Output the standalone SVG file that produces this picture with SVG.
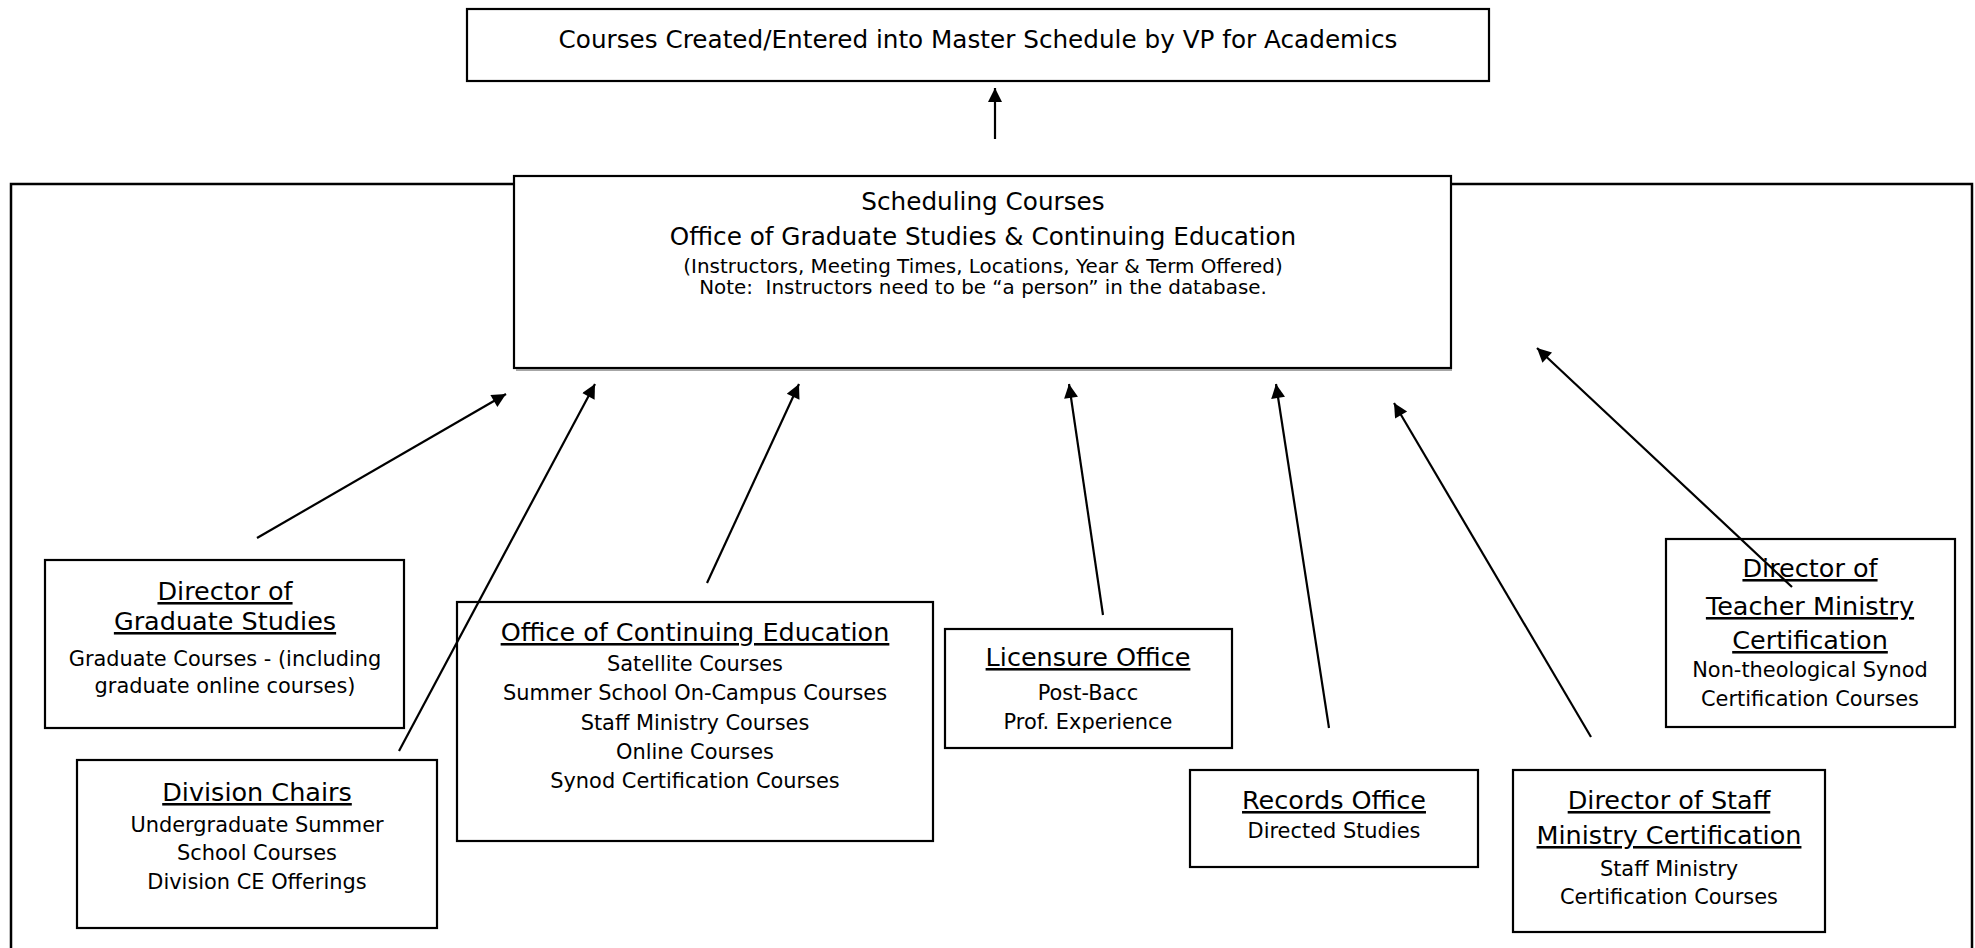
<svg xmlns="http://www.w3.org/2000/svg" width="1975" height="948" viewBox="0 0 1975 948">
<defs>
<style>
.box{fill:#fff;stroke:#000;stroke-width:2.2}
.frame{fill:none;stroke:#000;stroke-width:2.5}
text{font-family:"DejaVu Sans","Verdana",sans-serif;fill:#000;text-anchor:middle}
.t{font-size:24.7px}
.ts{font-size:19.9px}
.h{font-size:25.5px}
.s{font-size:20.9px}
.u{text-decoration:underline}
.c{stroke:#000;stroke-width:2.2;fill:none;marker-end:url(#ah)}
</style>
<marker id="ah" viewBox="0 0 10 10" refX="10" refY="5" markerUnits="userSpaceOnUse" markerWidth="18" markerHeight="14" orient="auto">
<path d="M0,0 L10,5 L0,10 z" fill="#000"/>
</marker>
</defs>
<rect width="1975" height="948" fill="#fff"/>
<rect class="frame" x="11" y="184" width="1961" height="800"/>
<g id="vp">
<rect class="box" x="467" y="9" width="1022" height="72"/>
<text class="t" x="978" y="48">Courses Created/Entered into Master Schedule by VP for Academics</text>
</g>
<g id="scheduling">
<rect class="box" x="514" y="176" width="937" height="192"/>
<line x1="516" y1="370" x2="1452" y2="370" stroke="#888" stroke-width="1.5"/>
<text class="t" x="983" y="210">Scheduling Courses</text>
<text class="t" x="983" y="245">Office of Graduate Studies &amp; Continuing Education</text>
<text class="ts" x="983" y="273">(Instructors, Meeting Times, Locations, Year &amp; Term Offered)</text>
<text class="ts" x="983" y="294">Note:&#160; Instructors need to be “a person” in the database.</text>
</g>
<g id="grad">
<rect class="box" x="45" y="560" width="359" height="168"/>
<text class="h u" x="225" y="600">Director of</text>
<text class="h u" x="225" y="630">Graduate Studies</text>
<text class="s" x="225" y="666">Graduate Courses - (including</text>
<text class="s" x="225" y="693">graduate online courses)</text>
</g>
<g id="division">
<rect class="box" x="77" y="760" width="360" height="168"/>
<text class="h u" x="257" y="801">Division Chairs</text>
<text class="s" x="257" y="832">Undergraduate Summer</text>
<text class="s" x="257" y="860">School Courses</text>
<text class="s" x="257" y="889">Division CE Offerings</text>
</g>
<g id="ce">
<rect class="box" x="457" y="602" width="476" height="239"/>
<text class="h u" x="695" y="641">Office of Continuing Education</text>
<text class="s" x="695" y="671">Satellite Courses</text>
<text class="s" x="695" y="700">Summer School On-Campus Courses</text>
<text class="s" x="695" y="730">Staff Ministry Courses</text>
<text class="s" x="695" y="759">Online Courses</text>
<text class="s" x="695" y="788">Synod Certification Courses</text>
</g>
<g id="licensure">
<rect class="box" x="945" y="629" width="287" height="119"/>
<text class="h u" x="1088" y="666">Licensure Office</text>
<text class="s" x="1088" y="700">Post-Bacc</text>
<text class="s" x="1088" y="729">Prof. Experience</text>
</g>
<g id="records">
<rect class="box" x="1190" y="770" width="288" height="97"/>
<text class="h u" x="1334" y="809">Records Office</text>
<text class="s" x="1334" y="838">Directed Studies</text>
</g>
<g id="staff">
<rect class="box" x="1513" y="770" width="312" height="162"/>
<text class="h u" x="1669" y="809">Director of Staff</text>
<text class="h u" x="1669" y="844">Ministry Certification</text>
<text class="s" x="1669" y="876">Staff Ministry</text>
<text class="s" x="1669" y="904">Certification Courses</text>
</g>
<g id="teacher">
<rect class="box" x="1666" y="539" width="289" height="188"/>
<text class="h u" x="1810" y="577">Director of</text>
<text class="h u" x="1810" y="615">Teacher Ministry</text>
<text class="h u" x="1810" y="649">Certification</text>
<text class="s" x="1810" y="677">Non-theological Synod</text>
<text class="s" x="1810" y="706">Certification Courses</text>
</g>
<g id="connectors">
<line class="c" x1="995" y1="139" x2="995" y2="88"/>
<line class="c" x1="257" y1="538" x2="506" y2="394"/>
<line class="c" x1="399" y1="751" x2="595" y2="384"/>
<line class="c" x1="707" y1="583" x2="799" y2="384"/>
<line class="c" x1="1103" y1="615" x2="1069" y2="384"/>
<line class="c" x1="1329" y1="728" x2="1276" y2="384"/>
<line class="c" x1="1591" y1="737" x2="1394" y2="403"/>
<line class="c" x1="1792" y1="587" x2="1537" y2="348"/>
</g>
</svg>
